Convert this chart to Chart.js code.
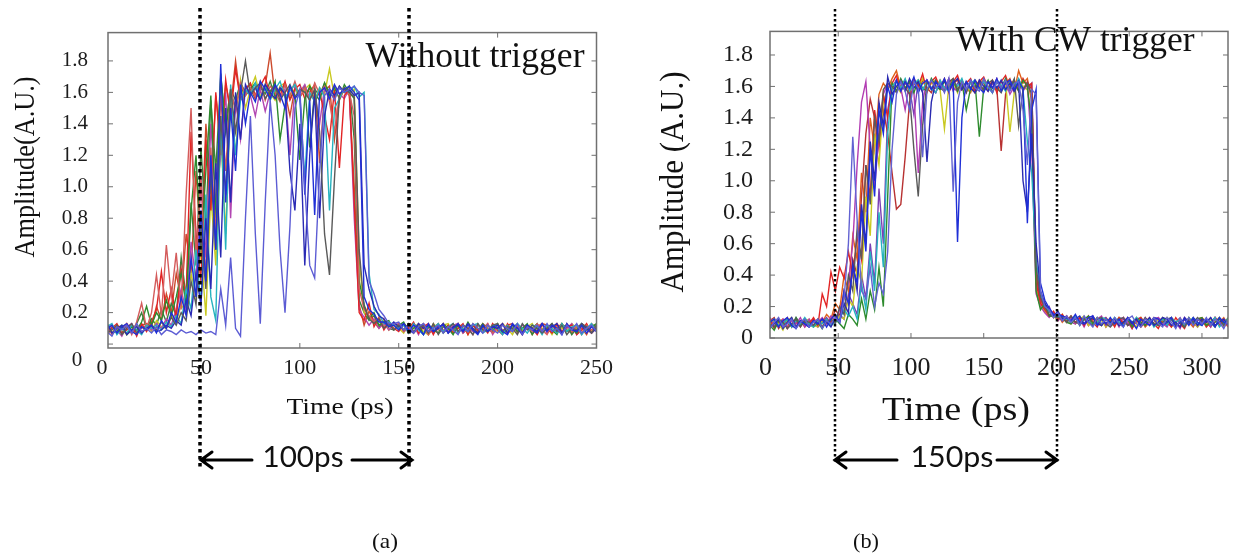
<!DOCTYPE html>
<html>
<head>
<meta charset="utf-8">
<script src="https://cdn.jsdelivr.net/npm/chart.js@4.4.1/dist/chart.umd.min.js"></script>
<style>
  html, body { margin: 0; padding: 0; background: #fff; }
  #wrap { position: relative; width: 1239px; height: 554px; overflow: hidden; }
  canvas { position: absolute; top: 0; }
  #chartA { left: 0; }
  #chartB { left: 620px; }
</style>
</head>
<body>
<div id="wrap">
  <canvas id="chartA" width="620" height="554"></canvas>
  <canvas id="chartB" width="619" height="554"></canvas>
</div>
<script>
// ---- (a) sans trigger : temps (ps) et traces ----
const timeA = [0,2.5,5,7.5,10,12.5,15,17.5,20,22.5,25,27.5,30,32.5,35,37.5,40,42.5,45,47.5,
  50,52.5,55,57.5,60,62.5,65,67.5,70,72.5,75,77.5,80,82.5,85,87.5,90,92.5,95,97.5,
  100,102.5,105,107.5,110,112.5,115,117.5,120,122.5,125,127.5,130,132.5,135,137.5,140,142.5,145,147.5,
  150,152.5,155,157.5,160,162.5,165,167.5,170,172.5,175,177.5,180,182.5,185,187.5,190,192.5,195,197.5,
  200,202.5,205,207.5,210,212.5,215,217.5,220,222.5,225,227.5,230,232.5,235,237.5,240,242.5,245,247.5,250];

const a1 = [0.07,0.12,0.06,0.11,0.09,0.13,0.06,0.14,0.26,0.10,
  0.20,0.44,0.18,0.63,0.30,0.58,0.22,0.95,1.50,0.55,
  1.05,0.42,1.25,0.70,1.58,1.10,1.62,1.48,1.66,1.58,
  1.63,1.57,1.67,1.55,1.64,1.60,1.54,1.65,1.58,1.67,
  1.57,1.63,1.55,1.66,1.59,1.64,1.54,1.35,1.58,1.63,
  1.60,1.45,0.35,0.22,0.18,0.14,0.17,0.11,0.14,0.09,
  0.13,0.08,0.12,0.07,0.13,0.10,0.06,0.12,0.09,0.13,
  0.07,0.11,0.13,0.08,0.10,0.06,0.12,0.09,0.13,0.07,
  0.10,0.13,0.07,0.09,0.12,0.06,0.11,0.08,0.13,0.09,
  0.06,0.12,0.10,0.07,0.13,0.08,0.11,0.06,0.12,0.09,0.11];
const a2 = [0.11,0.06,0.10,0.13,0.07,0.09,0.12,0.05,0.13,0.08,
  0.14,0.22,0.46,0.20,0.35,0.17,0.48,0.30,1.35,0.70,
  0.40,1.30,0.85,1.60,1.20,1.68,1.45,1.75,1.55,1.62,
  1.66,1.56,1.64,1.70,1.57,1.63,1.58,1.67,1.55,1.62,
  1.65,1.56,1.63,1.54,1.61,1.45,1.30,1.62,1.12,1.58,
  1.62,0.90,0.20,0.15,0.26,0.11,0.17,0.09,0.14,0.10,
  0.08,0.13,0.10,0.14,0.07,0.11,0.13,0.06,0.12,0.08,
  0.12,0.07,0.10,0.13,0.06,0.12,0.09,0.11,0.07,0.13,
  0.09,0.06,0.13,0.08,0.11,0.07,0.12,0.10,0.06,0.12,
  0.10,0.07,0.13,0.08,0.11,0.12,0.06,0.09,0.13,0.07,0.10];
const a3 = [0.09,0.13,0.07,0.08,0.12,0.06,0.11,0.09,0.14,0.24,
  0.12,0.20,0.15,0.28,0.18,0.30,0.45,0.25,0.85,1.20,
  0.60,1.10,1.58,0.80,1.72,1.35,1.60,1.50,1.64,1.58,
  1.62,1.66,1.56,1.63,1.59,1.67,1.30,1.52,1.64,1.58,
  1.17,1.56,1.64,1.59,1.55,1.66,1.58,1.63,1.56,1.65,
  1.60,1.56,0.40,0.25,0.16,0.20,0.12,0.14,0.15,0.09,
  0.12,0.14,0.08,0.10,0.13,0.06,0.11,0.09,0.07,0.13,
  0.10,0.06,0.12,0.08,0.14,0.09,0.07,0.11,0.12,0.08,
  0.13,0.07,0.09,0.12,0.08,0.10,0.13,0.06,0.11,0.09,
  0.12,0.09,0.06,0.13,0.08,0.10,0.07,0.12,0.09,0.11,0.13];
const a4 = [0.06,0.10,0.12,0.07,0.11,0.13,0.08,0.06,0.11,0.09,
  0.12,0.07,0.15,0.10,0.20,0.14,0.30,0.18,0.55,0.30,
  0.85,0.40,1.20,0.60,1.78,0.90,1.50,1.10,1.65,1.40,
  1.60,1.54,1.67,1.62,1.56,1.65,1.59,1.50,1.64,1.56,
  1.60,0.95,1.55,0.82,1.60,1.63,1.56,1.65,1.59,1.62,
  1.64,1.60,1.55,0.30,0.22,0.19,0.14,0.14,0.11,0.12,
  0.09,0.13,0.08,0.12,0.10,0.06,0.13,0.08,0.11,0.12,
  0.07,0.10,0.13,0.08,0.12,0.09,0.06,0.12,0.08,0.11,
  0.12,0.08,0.06,0.13,0.10,0.07,0.12,0.09,0.07,0.13,
  0.08,0.12,0.10,0.06,0.13,0.09,0.08,0.12,0.07,0.11,0.08];
const a5 = [0.12,0.08,0.05,0.11,0.09,0.12,0.07,0.13,0.08,0.10,
  0.07,0.11,0.06,0.09,0.08,0.06,0.09,0.07,0.08,0.06,
  0.09,0.07,0.08,0.06,0.35,0.12,0.55,0.10,0.05,0.80,
  1.45,0.70,0.13,0.90,1.55,1.20,0.60,0.20,0.75,1.50,
  1.62,1.00,0.50,0.42,1.10,1.58,1.62,1.55,1.63,1.60,
  1.62,1.64,1.60,1.58,0.40,0.32,0.22,0.18,0.13,0.13,
  0.14,0.09,0.12,0.07,0.11,0.13,0.08,0.10,0.12,0.07,
  0.11,0.09,0.06,0.12,0.08,0.13,0.10,0.07,0.12,0.09,
  0.07,0.12,0.10,0.08,0.13,0.06,0.11,0.09,0.12,0.08,
  0.13,0.08,0.10,0.06,0.12,0.09,0.13,0.07,0.10,0.12,0.08];
const a6 = [0.08,0.11,0.13,0.06,0.10,0.07,0.12,0.09,0.06,0.12,
  0.10,0.12,0.09,0.14,0.11,0.18,0.13,0.35,0.22,0.60,
  0.25,0.95,0.30,0.15,1.45,0.60,1.65,1.20,1.55,1.62,
  1.58,1.66,1.56,1.63,1.55,1.62,1.67,1.57,1.61,1.65,
  1.56,1.05,1.60,1.54,1.63,1.57,0.85,1.50,1.56,1.63,
  1.60,1.64,1.57,1.60,0.45,0.22,0.19,0.13,0.14,0.12,
  0.10,0.12,0.07,0.13,0.09,0.06,0.12,0.10,0.13,0.08,
  0.11,0.13,0.07,0.10,0.08,0.12,0.13,0.07,0.09,0.12,
  0.10,0.06,0.12,0.08,0.13,0.10,0.07,0.12,0.11,0.06,
  0.12,0.10,0.07,0.13,0.08,0.11,0.12,0.06,0.10,0.13,0.08];
const a7 = [0.10,0.07,0.12,0.09,0.05,0.11,0.13,0.07,0.10,0.12,
  0.09,0.13,0.10,0.16,0.12,0.22,0.35,0.20,0.65,0.40,
  1.05,0.55,1.40,0.90,1.20,1.60,0.80,1.55,1.30,1.62,
  1.58,1.45,1.62,1.48,1.60,1.65,1.57,1.62,1.20,1.63,
  1.60,1.65,1.56,1.61,1.40,1.63,1.58,1.64,1.59,1.56,
  1.62,0.80,0.22,0.17,0.12,0.16,0.10,0.13,0.09,0.12,
  0.13,0.08,0.10,0.12,0.06,0.13,0.10,0.07,0.12,0.09,
  0.08,0.12,0.13,0.07,0.10,0.08,0.12,0.10,0.13,0.06,
  0.11,0.09,0.07,0.13,0.08,0.12,0.10,0.07,0.09,0.13,
  0.07,0.10,0.12,0.08,0.10,0.13,0.06,0.11,0.09,0.07,0.12];
const a8 = [0.13,0.09,0.07,0.12,0.10,0.06,0.09,0.12,0.07,0.12,
  0.08,0.15,0.11,0.10,0.18,0.14,0.25,0.20,0.45,0.30,
  0.60,0.18,0.95,0.50,1.35,0.70,1.55,1.20,1.68,1.50,
  1.62,1.70,1.57,1.65,1.59,1.55,1.64,1.66,1.58,1.62,
  1.57,1.62,1.65,1.55,1.63,1.59,1.75,1.57,1.64,1.60,
  1.59,1.62,0.55,0.20,0.17,0.13,0.12,0.15,0.09,0.13,
  0.10,0.07,0.13,0.10,0.12,0.08,0.06,0.13,0.10,0.12,
  0.13,0.08,0.10,0.12,0.06,0.13,0.10,0.08,0.12,0.09,
  0.08,0.13,0.10,0.06,0.12,0.09,0.11,0.13,0.07,0.10,
  0.11,0.06,0.12,0.10,0.08,0.13,0.10,0.07,0.12,0.08,0.11];
const a9 = [0.11,0.07,0.09,0.12,0.06,0.10,0.13,0.07,0.11,0.09,
  0.12,0.09,0.14,0.10,0.17,0.12,0.20,0.15,0.40,0.25,
  0.70,0.35,1.10,0.60,1.45,0.95,1.62,1.35,1.60,1.80,
  1.58,1.63,1.66,1.56,1.61,1.64,1.55,1.60,1.65,1.57,
  1.62,1.60,1.55,1.62,1.35,0.70,0.44,1.05,1.58,1.63,
  1.60,1.57,0.60,0.24,0.16,0.13,0.16,0.10,0.13,0.09,
  0.12,0.09,0.13,0.08,0.10,0.12,0.07,0.13,0.06,0.11,
  0.10,0.13,0.08,0.12,0.10,0.06,0.13,0.09,0.08,0.12,
  0.13,0.08,0.11,0.10,0.06,0.13,0.09,0.12,0.10,0.07,
  0.10,0.13,0.08,0.12,0.06,0.10,0.09,0.13,0.11,0.07,0.12];
const a10 = [0.08,0.13,0.07,0.10,0.12,0.06,0.09,0.11,0.07,0.10,
  0.12,0.08,0.09,0.12,0.10,0.15,0.12,0.28,0.18,0.45,
  0.25,0.80,0.35,1.15,0.55,1.50,0.90,1.60,1.30,1.65,
  1.58,1.63,1.55,1.65,1.60,1.56,1.63,1.59,1.10,0.85,
  1.40,0.50,1.20,1.60,0.80,1.45,1.62,1.58,1.64,1.60,
  1.62,1.58,1.60,0.50,0.35,0.24,0.18,0.16,0.11,0.14,
  0.11,0.13,0.09,0.07,0.13,0.10,0.12,0.08,0.10,0.13,
  0.07,0.11,0.12,0.08,0.13,0.10,0.07,0.12,0.08,0.11,
  0.10,0.13,0.07,0.12,0.10,0.06,0.12,0.10,0.08,0.13,
  0.09,0.11,0.13,0.07,0.12,0.10,0.08,0.13,0.10,0.07,0.10];
const a11 = [0.10,0.06,0.11,0.09,0.07,0.12,0.08,0.13,0.20,0.10,
  0.16,0.12,0.22,0.14,0.26,0.18,0.55,0.30,0.90,0.50,
  1.25,0.75,1.55,1.10,1.70,1.40,1.62,1.55,1.66,1.60,
  1.62,1.56,1.63,1.59,1.67,1.57,1.61,1.65,1.56,1.62,
  1.60,1.64,1.25,1.62,1.58,1.66,1.60,1.56,1.63,1.60,
  1.64,1.30,0.28,0.20,0.15,0.18,0.11,0.14,0.10,0.09,
  0.13,0.09,0.12,0.07,0.10,0.13,0.08,0.11,0.12,0.07,
  0.10,0.07,0.13,0.10,0.08,0.12,0.09,0.13,0.08,0.10,
  0.12,0.09,0.07,0.10,0.13,0.08,0.12,0.10,0.13,0.07,
  0.10,0.13,0.08,0.11,0.12,0.06,0.10,0.13,0.09,0.11,0.12];
const a12 = [0.06,0.09,0.12,0.07,0.10,0.13,0.07,0.09,0.12,0.13,
  0.11,0.24,0.15,0.32,0.20,0.45,0.28,0.70,0.45,1.10,
  0.60,1.40,0.95,1.58,1.30,1.65,1.50,1.80,1.55,1.62,
  1.65,1.59,1.56,1.64,1.85,1.57,1.62,1.60,1.45,1.63,
  1.57,1.62,1.60,1.65,1.15,1.61,1.64,1.30,1.55,1.62,
  1.58,1.00,0.25,0.12,0.21,0.14,0.10,0.16,0.09,0.13,
  0.10,0.12,0.07,0.13,0.10,0.12,0.06,0.10,0.13,0.08,
  0.12,0.09,0.13,0.07,0.10,0.12,0.08,0.13,0.10,0.07,
  0.10,0.08,0.12,0.13,0.07,0.10,0.12,0.06,0.11,0.13,
  0.12,0.08,0.10,0.13,0.09,0.07,0.12,0.10,0.06,0.13,0.10];

const tracesA = [a5, a4, a9, a10, a6, a1, a3, a2, a7, a8, a11, a12];
const colorsA = ['#5c5cd4', '#1f2fd6', '#5a5a5a', '#2a2ab4', '#26b2bf', '#d45c5c',
  '#2e8b2e', '#e22424', '#b247b2', '#c9c922', '#3d7f3d', '#cc4a2c'];
const xTicksA = [0, 50, 100, 150, 200, 250];
const yTicksA = [0.2, 0.4, 0.6, 0.8, 1.0, 1.2, 1.4, 1.6, 1.8];

// ---- (b) avec trigger CW ----
const timeB = [0,3,6,9,12,15,18,21,24,27,30,33,36,39,42,45,48,51,54,57,
  60,63,66,69,72,75,78,81,84,87,90,93,96,99,102,105,108,111,114,117,
  120,123,126,129,132,135,138,141,144,147,150,153,156,159,162,165,168,171,174,177,
  180,183,186,189,192,195,198,201,204,207,210,213,216,219,222,225,228,231,234,237,
  240,243,246,249,252,255,258,261,264,267,270,273,276,279,282,285,288,291,294,297,
  300,303,306,309,312,315,318];

const b1 = [0.08,0.12,0.06,0.11,0.09,0.13,0.07,0.11,0.08,0.12,
  0.09,0.13,0.08,0.28,0.20,0.42,0.30,0.45,0.38,0.55,
  0.40,0.65,0.50,1.10,0.90,1.45,1.25,1.55,1.40,1.62,
  1.67,1.58,1.64,1.56,1.65,1.60,1.68,1.57,1.63,1.66,
  1.59,1.64,1.56,1.63,1.67,1.58,1.62,1.65,1.57,1.63,
  1.66,1.59,1.64,1.56,1.63,1.67,1.59,1.64,1.57,1.65,
  1.60,1.62,0.35,0.22,0.18,0.14,0.17,0.12,0.15,0.11,
  0.14,0.10,0.13,0.08,0.14,0.10,0.07,0.13,0.09,0.12,
  0.07,0.13,0.09,0.12,0.06,0.11,0.13,0.08,0.12,0.09,
  0.06,0.12,0.10,0.07,0.13,0.09,0.06,0.12,0.08,0.11,
  0.12,0.07,0.10,0.13,0.08,0.11,0.07];
const b2 = [0.11,0.06,0.10,0.13,0.07,0.09,0.12,0.06,0.10,0.12,
  0.07,0.10,0.12,0.06,0.11,0.09,0.13,0.10,0.25,0.60,
  1.28,0.75,0.30,0.25,0.45,0.20,0.35,0.28,0.55,1.20,
  1.55,1.63,1.57,1.45,1.63,1.59,1.15,1.58,1.64,1.59,
  1.62,1.56,1.65,0.93,1.50,1.63,1.58,1.64,1.59,1.57,
  1.65,1.60,1.56,1.63,1.59,1.64,1.57,1.62,1.63,1.45,
  1.10,1.58,1.55,0.30,0.20,0.18,0.13,0.16,0.11,0.14,
  0.10,0.13,0.08,0.14,0.10,0.07,0.13,0.09,0.12,0.08,
  0.13,0.09,0.07,0.12,0.14,0.09,0.07,0.12,0.10,0.13,
  0.09,0.07,0.13,0.10,0.06,0.12,0.09,0.13,0.08,0.12,
  0.09,0.13,0.08,0.12,0.10,0.06,0.12];
const b3 = [0.09,0.13,0.07,0.08,0.12,0.06,0.11,0.09,0.13,0.07,
  0.12,0.08,0.10,0.13,0.09,0.14,0.11,0.18,0.25,0.35,
  0.60,1.10,1.50,1.63,1.20,0.95,1.30,1.55,1.62,1.58,
  1.64,1.59,1.45,1.63,1.57,1.05,1.50,1.64,1.59,1.56,
  1.63,1.58,1.65,1.59,1.57,1.63,1.56,1.64,1.59,1.62,
  1.57,1.63,1.59,1.65,1.58,1.63,1.55,1.60,1.64,1.57,
  1.61,1.20,0.28,0.20,0.16,0.13,0.16,0.11,0.14,0.10,
  0.13,0.09,0.12,0.07,0.13,0.10,0.12,0.14,0.08,0.10,
  0.12,0.07,0.13,0.10,0.06,0.12,0.09,0.13,0.08,0.10,
  0.13,0.09,0.07,0.12,0.10,0.06,0.13,0.10,0.12,0.08,
  0.10,0.12,0.07,0.13,0.10,0.08,0.12];
const b4 = [0.06,0.10,0.12,0.07,0.11,0.13,0.08,0.06,0.11,0.09,
  0.07,0.11,0.09,0.12,0.07,0.12,0.15,0.10,0.30,0.22,
  0.45,0.35,0.80,0.55,1.20,0.90,1.45,1.30,1.60,1.50,
  1.64,1.57,1.63,1.59,1.66,1.56,1.62,1.64,1.58,1.63,
  1.59,1.65,1.57,1.63,0.61,1.40,1.63,1.58,1.64,1.59,
  1.56,1.63,1.59,1.65,1.57,1.62,1.64,1.58,1.63,1.59,
  0.73,1.45,1.58,0.35,0.24,0.19,0.15,0.15,0.14,0.13,
  0.11,0.15,0.10,0.09,0.13,0.14,0.08,0.12,0.09,0.13,
  0.09,0.12,0.07,0.13,0.10,0.06,0.12,0.10,0.08,0.13,
  0.12,0.08,0.10,0.13,0.07,0.10,0.12,0.08,0.13,0.10,
  0.08,0.12,0.10,0.07,0.13,0.10,0.09];
const b5 = [0.12,0.08,0.05,0.11,0.09,0.12,0.07,0.13,0.08,0.10,
  0.09,0.07,0.10,0.06,0.11,0.08,0.12,0.09,0.06,0.15,
  0.12,0.08,0.25,0.12,0.30,0.18,0.45,0.20,0.90,1.62,
  1.57,1.65,1.59,1.63,1.56,1.64,1.59,1.57,1.65,1.60,
  1.58,1.63,1.59,1.64,1.57,1.63,1.45,1.59,1.63,1.28,
  1.59,1.64,1.56,1.63,1.59,1.65,1.58,1.63,1.57,1.64,
  1.60,1.35,0.30,0.18,0.22,0.14,0.14,0.13,0.13,0.10,
  0.09,0.13,0.08,0.12,0.14,0.09,0.13,0.08,0.12,0.10,
  0.13,0.08,0.10,0.12,0.07,0.13,0.10,0.08,0.12,0.09,
  0.08,0.13,0.10,0.12,0.08,0.10,0.07,0.13,0.09,0.12,
  0.13,0.08,0.10,0.07,0.12,0.09,0.13];
const b6 = [0.08,0.11,0.13,0.06,0.10,0.07,0.12,0.09,0.11,0.07,
  0.10,0.12,0.09,0.07,0.12,0.10,0.18,0.14,0.30,0.22,
  0.50,0.40,0.90,1.30,1.52,1.40,1.20,1.45,1.30,1.05,
  0.82,0.85,1.15,1.50,1.63,1.57,1.64,1.59,1.56,1.63,
  1.59,1.65,1.57,1.62,1.64,1.58,1.63,1.59,1.56,1.64,
  1.62,1.57,1.63,1.59,1.19,1.55,1.64,1.59,1.63,1.58,
  1.63,1.58,0.40,0.25,0.19,0.17,0.13,0.16,0.11,0.14,
  0.10,0.14,0.09,0.13,0.08,0.12,0.10,0.13,0.07,0.11,
  0.12,0.09,0.13,0.08,0.10,0.12,0.07,0.10,0.13,0.08,
  0.10,0.13,0.08,0.12,0.10,0.07,0.12,0.09,0.13,0.08,
  0.12,0.10,0.07,0.13,0.10,0.08,0.11];
const b7 = [0.10,0.07,0.12,0.09,0.05,0.11,0.13,0.07,0.10,0.08,
  0.12,0.08,0.07,0.11,0.09,0.12,0.10,0.14,0.12,0.25,
  0.20,0.45,0.35,0.90,0.65,1.30,1.10,1.50,1.58,1.62,
  1.60,1.56,1.64,1.58,1.63,1.59,1.65,1.57,1.62,1.64,
  1.58,1.33,1.60,1.63,1.56,1.64,1.59,1.57,1.63,1.60,
  1.65,1.58,1.63,1.59,1.57,1.63,1.31,1.56,1.64,1.60,
  1.58,1.40,0.32,0.20,0.17,0.14,0.14,0.11,0.15,0.10,
  0.13,0.09,0.12,0.14,0.08,0.10,0.13,0.11,0.07,0.10,
  0.09,0.13,0.08,0.12,0.10,0.07,0.13,0.10,0.12,0.08,
  0.12,0.10,0.13,0.07,0.10,0.12,0.08,0.13,0.10,0.07,
  0.10,0.08,0.12,0.10,0.13,0.07,0.10];
const b8 = [0.13,0.09,0.07,0.12,0.10,0.06,0.09,0.12,0.07,0.11,
  0.10,0.08,0.12,0.07,0.10,0.12,0.09,0.20,0.15,0.40,
  0.30,0.70,0.50,1.10,0.85,1.40,1.25,1.58,1.62,1.60,
  1.56,1.64,1.59,1.55,1.20,0.90,1.35,1.63,1.58,1.64,
  1.59,1.57,1.63,1.65,1.58,1.62,1.56,1.64,1.59,1.63,
  1.57,1.62,1.64,1.59,1.56,1.63,1.59,1.65,1.35,1.58,
  1.62,1.55,0.45,0.26,0.20,0.15,0.14,0.13,0.13,0.10,
  0.14,0.10,0.09,0.13,0.10,0.08,0.12,0.13,0.09,0.07,
  0.10,0.12,0.13,0.08,0.10,0.12,0.08,0.13,0.10,0.12,
  0.08,0.10,0.12,0.13,0.08,0.10,0.07,0.12,0.10,0.13,
  0.10,0.12,0.08,0.10,0.13,0.08,0.12];
const b9 = [0.07,0.10,0.12,0.08,0.09,0.12,0.07,0.11,0.09,0.13,
  0.09,0.07,0.11,0.09,0.12,0.08,0.10,0.12,0.18,0.14,
  0.20,0.12,0.35,0.18,0.55,0.30,0.80,0.45,1.30,1.60,
  1.63,1.59,1.65,1.57,1.62,1.64,1.58,1.63,1.59,1.56,
  1.64,1.59,1.57,1.63,1.60,1.65,1.57,1.62,1.64,1.58,
  1.63,1.59,1.56,1.64,1.61,1.57,1.63,1.59,1.65,1.58,
  1.25,1.05,0.50,0.28,0.20,0.17,0.14,0.14,0.13,0.12,
  0.10,0.14,0.09,0.13,0.11,0.08,0.10,0.13,0.12,0.09,
  0.13,0.10,0.08,0.12,0.10,0.13,0.08,0.10,0.12,0.07,
  0.10,0.12,0.08,0.13,0.10,0.12,0.08,0.10,0.13,0.09,
  0.08,0.12,0.10,0.13,0.07,0.10,0.12];
const b10 = [0.11,0.07,0.09,0.12,0.06,0.10,0.13,0.07,0.11,0.09,
  0.07,0.11,0.09,0.12,0.10,0.07,0.13,0.10,0.22,0.16,
  0.48,0.30,0.85,0.60,1.25,1.00,1.50,1.35,1.66,1.55,
  1.60,1.63,1.57,1.65,1.59,1.63,1.56,1.12,1.50,1.63,
  1.59,1.64,1.57,1.62,1.65,1.58,1.63,1.59,1.56,1.64,
  1.60,1.57,1.63,1.59,1.64,1.58,1.62,1.57,1.63,1.00,
  0.80,1.30,0.60,0.30,0.22,0.18,0.14,0.17,0.12,0.13,
  0.11,0.12,0.14,0.09,0.11,0.13,0.09,0.08,0.12,0.10,
  0.12,0.08,0.10,0.13,0.09,0.12,0.08,0.10,0.13,0.08,
  0.10,0.13,0.12,0.08,0.10,0.07,0.13,0.10,0.12,0.08,
  0.12,0.10,0.13,0.08,0.10,0.12,0.08];
const b11 = [0.08,0.13,0.07,0.10,0.12,0.06,0.09,0.11,0.07,0.12,
  0.11,0.08,0.12,0.10,0.15,0.12,0.22,0.18,0.40,0.30,
  0.65,0.50,1.05,0.80,1.40,1.20,1.55,1.62,1.58,1.65,
  1.70,1.59,1.64,1.57,1.62,1.59,1.65,1.56,1.63,1.59,
  1.64,1.57,1.61,1.65,1.58,1.63,1.59,1.56,1.64,1.61,
  1.57,1.63,1.59,1.64,1.58,1.62,1.65,1.57,1.70,1.62,
  1.65,1.50,0.38,0.24,0.18,0.14,0.14,0.15,0.10,0.13,
  0.09,0.13,0.11,0.08,0.13,0.10,0.12,0.08,0.13,0.10,
  0.08,0.12,0.10,0.13,0.08,0.10,0.12,0.07,0.10,0.13,
  0.12,0.08,0.10,0.13,0.10,0.12,0.08,0.10,0.07,0.12,
  0.13,0.10,0.08,0.12,0.10,0.13,0.08];
const b12 = [0.10,0.06,0.11,0.09,0.07,0.12,0.08,0.13,0.09,0.11,
  0.08,0.12,0.07,0.10,0.13,0.09,0.11,0.15,0.12,0.28,
  0.22,0.15,0.40,0.25,0.60,0.35,0.95,0.60,1.45,1.60,
  1.64,1.57,1.62,1.59,1.42,1.63,1.57,1.64,1.59,1.56,
  1.63,1.59,1.65,1.57,1.62,1.64,1.58,1.63,1.56,1.60,
  1.64,1.58,1.62,1.57,1.63,1.59,1.64,1.56,1.62,1.60,
  1.58,1.62,0.42,0.22,0.17,0.20,0.13,0.14,0.11,0.14,
  0.10,0.09,0.13,0.12,0.08,0.14,0.10,0.12,0.13,0.08,
  0.10,0.13,0.12,0.08,0.10,0.12,0.13,0.08,0.10,0.12,
  0.13,0.10,0.08,0.12,0.10,0.13,0.08,0.12,0.10,0.07,
  0.12,0.10,0.13,0.08,0.10,0.12,0.10];

const tracesB = [b2, b4, b10, b8, b9, b5, b1, b3, b7, b6, b12, b11];
const colorsB = ['#6262d2', '#1f2fd6', '#2a2ab0', '#5a5a5a', '#26b2bf', '#2e8b2e',
  '#e22424', '#b23cb2', '#c9c922', '#b83232', '#7a3fb5', '#e0601c'];
const xTicksB = [0, 50, 100, 150, 200, 250, 300];
const yTicksB = [0, 0.2, 0.4, 0.6, 0.8, 1.0, 1.2, 1.4, 1.6, 1.8];

const SERIF = '"Liberation Serif", "Times New Roman", serif';
Chart.defaults.color = '#1c1c1c';

function stretchText(ctx, text, x, y, size, family, width, rot) {
  ctx.save();
  ctx.font = size + 'px ' + family;
  const w = ctx.measureText(text).width;
  ctx.translate(x, y);
  if (rot) ctx.rotate(-Math.PI / 2);
  ctx.scale(width / w, 1);
  ctx.textAlign = 'center';
  ctx.textBaseline = 'alphabetic';
  ctx.fillStyle = '#111';
  ctx.fillText(text, 0, 0);
  ctx.restore();
}

function arrow(ctx, from, to, y) {
  const dir = Math.sign(to - from);
  ctx.save();
  ctx.strokeStyle = '#000';
  ctx.lineWidth = 3;
  ctx.lineCap = 'round';
  ctx.beginPath();
  ctx.moveTo(from, y);
  ctx.lineTo(to, y);
  ctx.moveTo(to - dir * 11, y - 8);
  ctx.lineTo(to, y);
  ctx.lineTo(to - dir * 11, y + 8);
  ctx.stroke();
  ctx.restore();
}

// cadre, petites graduations intérieures, pointillés et annotations
function decorPlugin(p) {
  return {
    id: 'decor',
    afterDatasetsDraw(chart) {
      const ctx = chart.ctx;
      const a = chart.chartArea;
      const xs = chart.scales.x, ys = chart.scales.y;
      ctx.save();
      ctx.strokeStyle = '#707070';
      ctx.lineWidth = 1.5;
      ctx.strokeRect(a.left, a.top, a.right - a.left, a.bottom - a.top);
      ctx.lineWidth = 1;
      ctx.beginPath();
      p.xMarks.forEach(v => {
        const x = xs.getPixelForValue(v);
        ctx.moveTo(x, a.bottom); ctx.lineTo(x, a.bottom - 5);
        ctx.moveTo(x, a.top); ctx.lineTo(x, a.top + 5);
      });
      p.yMarks.forEach(v => {
        const y = ys.getPixelForValue(v);
        ctx.moveTo(a.left, y); ctx.lineTo(a.left + 5, y);
        ctx.moveTo(a.right, y); ctx.lineTo(a.right - 5, y);
      });
      ctx.stroke();
      ctx.restore();

      if (p.zeroLabel) {
        ctx.save();
        ctx.font = p.zeroLabel.size + 'px ' + SERIF;
        ctx.fillStyle = '#1c1c1c';
        ctx.textAlign = 'center';
        ctx.textBaseline = 'middle';
        ctx.fillText('0', p.zeroLabel.x, p.zeroLabel.y);
        ctx.restore();
      }

      const t = p.title;
      stretchText(ctx, t.text, t.x, t.y, t.size, SERIF, t.w);
      const xl = p.xLabel;
      stretchText(ctx, xl.text, xl.x, xl.y, xl.size, SERIF, xl.w);
      const yl = p.yLabel;
      stretchText(ctx, yl.text, yl.x, yl.y, yl.size, SERIF, yl.w, true);
      stretchText(ctx, p.sub.text, p.sub.x, p.sub.y, 22, SERIF, p.sub.w);

      // lignes verticales en pointillés
      ctx.save();
      ctx.strokeStyle = '#000';
      ctx.lineWidth = p.dot.w;
      ctx.setLineDash([p.dot.w, p.dot.w]);
      p.dot.at.forEach(v => {
        const x = Math.round(xs.getPixelForValue(v));
        ctx.beginPath();
        ctx.moveTo(x, p.dot.top);
        ctx.lineTo(x, p.dot.bottom);
        ctx.stroke();
      });
      ctx.restore();

      const s = p.span;
      arrow(ctx, s.l1, s.l0, s.y);
      arrow(ctx, s.r0, s.r1, s.y);
      stretchText(ctx, s.text, s.tx, s.y + 7, 28, '"Lato", "Liberation Sans", sans-serif', s.tw);
    }
  };
}

function makeChart(id, times, traces, colors, opt) {
  const datasets = traces.map((vals, k) => ({
    data: times.map((t, i) => ({ x: t, y: vals[i] })),
    borderColor: colors[k],
    borderWidth: 1.4,
    pointRadius: 0,
    tension: 0,
    fill: false
  }));
  return new Chart(document.getElementById(id), {
    type: 'line',
    data: { datasets },
    options: {
      responsive: false,
      animation: false,
      events: [],
      layout: { padding: opt.padding },
      plugins: { legend: { display: false }, tooltip: { enabled: false } },
      scales: {
        x: {
          type: 'linear',
          min: opt.xMin, max: opt.xMax,
          afterBuildTicks: sc => { sc.ticks = opt.xTicks.map(v => ({ value: v })); },
          afterFit: sc => { sc.height = opt.xAxisH; },
          grid: { display: false, drawTicks: false },
          border: { display: false },
          ticks: { font: { family: SERIF, size: opt.xFont }, padding: opt.xPad, maxRotation: 0, autoSkip: false }
        },
        y: {
          min: opt.yMin, max: opt.yMax,
          afterBuildTicks: sc => { sc.ticks = opt.yTicks.map(v => ({ value: v })); },
          afterFit: sc => { sc.width = opt.yAxisW; },
          grid: { display: false, drawTicks: false },
          border: { display: false },
          ticks: {
            font: { family: SERIF, size: opt.yFont }, padding: opt.yPad, autoSkip: false,
            callback: v => v === 0 ? '0' : v.toFixed(1)
          }
        }
      }
    },
    plugins: [decorPlugin(opt.decor)]
  });
}

makeChart('chartA', timeA, tracesA, colorsA, {
  padding: { left: 0, top: 13, right: 17, bottom: 0 },
  xMin: 3, xMax: 250, yMin: -0.025, yMax: 1.98,
  xTicks: xTicksA, yTicks: yTicksA,
  xAxisH: 206, yAxisW: 108, xFont: 22, yFont: 21, xPad: 7, yPad: 20,
  decor: {
    xMarks: [50, 100, 150, 200], yMarks: [0].concat(yTicksA),
    zeroLabel: { x: 77, y: 360, size: 21 },
    title: { text: 'Without trigger', x: 475, y: 67, size: 35, w: 219 },
    xLabel: { text: 'Time (ps)', x: 340, y: 414, size: 24, w: 107 },
    yLabel: { text: 'Amplitude(A.U.)', x: 34, y: 167, size: 30, w: 181 },
    sub: { text: '(a)', x: 385, y: 548, w: 26 },
    dot: { at: [49.5, 155], top: 8, bottom: 470, w: 3.5 },
    span: { y: 460, l0: 201, l1: 252, r0: 352, r1: 412, text: '100ps', tx: 303, tw: 81 }
  }
});

makeChart('chartB', timeB, tracesB, colorsB, {
  padding: { left: 0, top: 9, right: 11, bottom: 0 },
  xMin: 3.1, xMax: 317.9, yMin: 0, yMax: 1.95,
  xTicks: xTicksB, yTicks: yTicksB,
  xAxisH: 216, yAxisW: 150, xFont: 26, yFont: 24, xPad: 15, yPad: 17,
  decor: {
    xMarks: [50, 100, 150, 200, 250, 300], yMarks: yTicksB,
    zeroLabel: null,
    title: { text: 'With CW trigger', x: 455, y: 51, size: 35, w: 239 },
    xLabel: { text: 'Time (ps)', x: 336, y: 420, size: 33, w: 148 },
    yLabel: { text: 'Amplitude (A.U.)', x: 63, y: 182, size: 34, w: 221 },
    sub: { text: '(b)', x: 246, y: 548, w: 26 },
    dot: { at: [47.8, 200.4], top: 9, bottom: 463, w: 2.5 },
    span: { y: 460, l0: 215, l1: 277, r0: 377, r1: 437, text: '150ps', tx: 332, tw: 83 }
  }
});
</script>
</body>
</html>
